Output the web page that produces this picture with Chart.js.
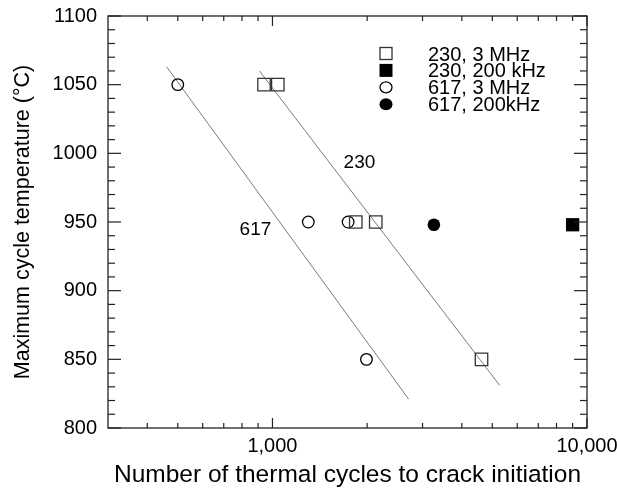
<!DOCTYPE html>
<html>
<head>
<meta charset="utf-8">
<script src="https://cdn.jsdelivr.net/npm/chart.js@4.4.1/dist/chart.umd.min.js"></script>
<style>
  html, body { margin: 0; padding: 0; background: #fff; }
  #wrap { width: 617px; height: 490px; }
</style>
</head>
<body>
<div id="wrap"><canvas id="crack-chart" width="617" height="490"></canvas></div>
<script>
// Thermal cycles to crack initiation vs. maximum cycle temperature

// alloy 230, 3 MHz
const cycles230_3MHz = [940, 1040, 1840, 2130, 4620];
const temps230_3MHz = [1050, 1050, 950, 950, 850];
// alloy 230, 200 kHz
const cycles230_200kHz = [9000];
const temps230_200kHz = [948];
// alloy 617, 3 MHz
const cycles617_3MHz = [500, 1300, 1740, 1990];
const temps617_3MHz = [1050, 950, 950, 850];
// alloy 617, 200 kHz
const cycles617_200kHz = [3260];
const temps617_200kHz = [948];

// trend lines (end points)
const fit230Cycles = [909, 5280];
const fit230Temps = [1060, 831];
const fit617Cycles = [461, 2710];
const fit617Temps = [1063, 821];

// axes
const xMajorTicks = [1000, 10000];
const xMinorTicks = [400, 500, 600, 700, 800, 900, 2000, 3000, 4000, 5000, 6000, 7000, 8000, 9000];
const yMin = 800, yMax = 1100, yMajorStep = 50, yMinorStep = 10;

const legendLabels = ["230, 3 MHz", "230, 200 kHz", "617, 3 MHz", "617, 200kHz"];
const curveLabels = [
  { text: "230", x: 1890, y: 993 },
  { text: "617", x: 883, y: 944 }
];

const FONT = "'Liberation Sans', Arial, Helvetica, sans-serif";

function toPoints(xs, ys) {
  return xs.map((x, i) => ({ x: x, y: ys[i] }));
}

// frame + inward tick marks on all four sides, legend box and curve labels
const overlay = {
  id: "overlay",
  afterDraw(chart) {
    const ctx = chart.ctx;
    const a = chart.chartArea;
    const xs = chart.scales.x, ys = chart.scales.y;

    ctx.save();
    ctx.strokeStyle = "#222";
    ctx.lineWidth = 1.3;
    ctx.strokeRect(a.left, a.top, a.right - a.left, a.bottom - a.top);

    // tick marks
    ctx.strokeStyle = "#222";
    ctx.lineWidth = 1.2;
    const seg = (x1, y1, x2, y2) => {
      ctx.beginPath();
      ctx.moveTo(x1, y1);
      ctx.lineTo(x2, y2);
      ctx.stroke();
    };
    const xTick = (v, len) => {
      const px = xs.getPixelForValue(v);
      seg(px, a.bottom, px, a.bottom - len);
      seg(px, a.top, px, a.top + len);
    };
    xMajorTicks.forEach(v => xTick(v, 10));
    xMinorTicks.forEach(v => xTick(v, 5));

    for (let v = yMin; v <= yMax; v += yMinorStep) {
      const len = v % yMajorStep === 0 ? 13 : 7;
      const py = ys.getPixelForValue(v);
      seg(a.left, py, a.left + len, py);
      seg(a.right, py, a.right - len, py);
    }

    // legend
    ctx.fillStyle = "#000";
    ctx.font = "20px " + FONT;
    ctx.textBaseline = "alphabetic";
    const mx = 386, tx = 428, y0 = 53.5, step = 16.9;
    legendLabels.forEach((label, i) => {
      const y = y0 + i * step;
      ctx.beginPath();
      ctx.lineWidth = 1.3;
      if (i === 0) {
        ctx.strokeStyle = "#333";
        ctx.strokeRect(mx - 6, y - 6, 12, 12);
      } else if (i === 1) {
        ctx.fillRect(mx - 6.5, y - 6.5, 13, 13);
      } else if (i === 2) {
        ctx.strokeStyle = "#000";
        ctx.ellipse(mx, y, 6, 5.5, 0, 0, Math.PI * 2);
        ctx.stroke();
      } else {
        ctx.ellipse(mx, y, 6.5, 6, 0, 0, Math.PI * 2);
        ctx.fill();
      }
      ctx.fillText(label, tx, y + 7);
    });

    // curve labels
    ctx.font = "19px " + FONT;
    ctx.textAlign = "center";
    ctx.textBaseline = "middle";
    curveLabels.forEach(l => {
      ctx.fillText(l.text, xs.getPixelForValue(l.x), ys.getPixelForValue(l.y));
    });
    ctx.restore();
  }
};

const ctx = document.getElementById("crack-chart").getContext("2d");
new Chart(ctx, {
  type: "scatter",
  data: {
    datasets: [
      {
        label: "230, 3 MHz",
        data: toPoints(cycles230_3MHz, temps230_3MHz),
        pointStyle: "rect",
        pointRadius: 8.8,
        borderColor: "#333",
        backgroundColor: "rgba(0,0,0,0)",
        borderWidth: 1.3
      },
      {
        label: "230, 200 kHz",
        data: toPoints(cycles230_200kHz, temps230_200kHz),
        pointStyle: "rect",
        pointRadius: 9.4,
        borderColor: "#000",
        backgroundColor: "#000",
        borderWidth: 0
      },
      {
        label: "617, 3 MHz",
        data: toPoints(cycles617_3MHz, temps617_3MHz),
        pointStyle: "circle",
        pointRadius: 5.8,
        borderColor: "#000",
        backgroundColor: "rgba(0,0,0,0)",
        borderWidth: 1.3
      },
      {
        label: "617, 200kHz",
        data: toPoints(cycles617_200kHz, temps617_200kHz),
        pointStyle: "circle",
        pointRadius: 6.3,
        borderColor: "#000",
        backgroundColor: "#000",
        borderWidth: 0
      },
      {
        label: "230 fit",
        data: toPoints(fit230Cycles, fit230Temps),
        showLine: true,
        pointRadius: 0,
        borderColor: "#7a7a7a",
        borderWidth: 1
      },
      {
        label: "617 fit",
        data: toPoints(fit617Cycles, fit617Temps),
        showLine: true,
        pointRadius: 0,
        borderColor: "#7a7a7a",
        borderWidth: 1
      }
    ]
  },
  options: {
    responsive: false,
    animation: false,
    events: [],
    layout: { padding: { top: 16, right: 30, left: 0, bottom: 0 } },
    plugins: {
      legend: { display: false },
      tooltip: { enabled: false }
    },
    scales: {
      x: {
        type: "logarithmic",
        min: 300,
        max: 10000,
        grid: { display: false, drawTicks: false },
        border: { display: false },
        afterBuildTicks: s => { s.ticks = xMajorTicks.map(v => ({ value: v })); },
        afterFit: s => {
          s.height = 62;
          s.paddingLeft = 0;
          s.paddingRight = 0;
        },
        ticks: {
          autoSkip: false,
          maxRotation: 0,
          padding: 6,
          color: "#000",
          font: { family: FONT, size: 20 },
          callback: v => v.toLocaleString("en-US")
        },
        title: {
          display: true,
          text: "Number of thermal cycles to crack initiation",
          color: "#000",
          font: { family: FONT, size: 24.5 },
          padding: { top: 7, bottom: 0 }
        }
      },
      y: {
        min: yMin,
        max: yMax,
        grid: { display: false, drawTicks: false },
        border: { display: false },
        afterFit: s => {
          s.width = 108;
          s.paddingTop = 0;
          s.paddingBottom = 0;
        },
        ticks: {
          stepSize: yMajorStep,
          autoSkip: false,
          padding: 11,
          color: "#000",
          font: { family: FONT, size: 20 },
          callback: v => String(v)
        },
        title: {
          display: true,
          text: "Maximum cycle temperature (\u00B0C)",
          color: "#000",
          font: { family: FONT, size: 21.5 },
          padding: { top: 10, bottom: 0 }
        }
      }
    }
  },
  plugins: [overlay]
});
</script>
</body>
</html>
